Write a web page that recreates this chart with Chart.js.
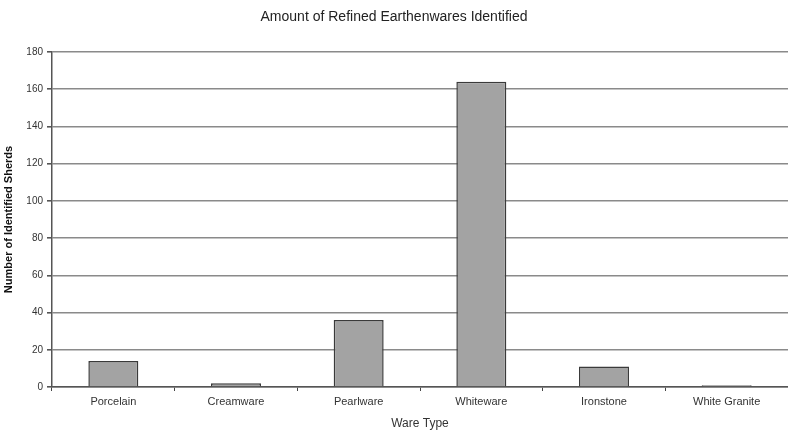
<!DOCTYPE html>
<html>
<head>
<meta charset="utf-8">
<script src="https://cdn.jsdelivr.net/npm/chart.js@4.4.1/dist/chart.umd.min.js"></script>
<style>
  html, body { margin: 0; padding: 0; background: #fff; }
  #wrap { width: 788px; height: 437px; }
</style>
</head>
<body>
<div id="wrap"><canvas id="c" width="788" height="437"></canvas></div>
<script>
// Refined earthenware sherd counts by ware type
const wareTypes = ['Porcelain', 'Creamware', 'Pearlware', 'Whiteware', 'Ironstone', 'White Granite'];
const sherdCounts = [14, 2, 36, 164, 11, 1];
const yTicks = [0, 20, 40, 60, 80, 100, 120, 140, 160, 180];

const FONT = '"Liberation Sans", Arial, sans-serif';

new Chart(document.getElementById('c'), {
  type: 'bar',
  data: {
    labels: wareTypes,
    datasets: [{
      data: sherdCounts,
      backgroundColor: '#a3a3a3',
      borderColor: '#3a3a3a',
      borderWidth: 1.5,
      barPercentage: 0.815,
      categoryPercentage: 0.5
    }]
  },
  options: {
    responsive: false,
    animation: false,
    layout: { padding: { left: 0, right: 0, top: 0, bottom: 0 } },
    plugins: {
      legend: { display: false },
      tooltip: { enabled: false },
      title: {
        display: true,
        text: 'Amount of Refined Earthenwares Identified',
        color: '#222',
        font: { family: FONT, size: 14, weight: 'normal' },
        padding: { top: 9, bottom: 26.2 }
      }
    },
    scales: {
      x: {
        offset: true,
        grid: {
          offset: true,
          drawOnChartArea: false,
          drawTicks: true,
          tickLength: 4,
          color: '#444',
          lineWidth: 1
        },
        border: { display: true, color: '#555', width: 1.5 },
        ticks: {
          color: '#333',
          font: { family: FONT, size: 11 },
          padding: 4.5,
          maxRotation: 0,
          autoSkip: false
        },
        title: {
          display: true,
          text: 'Ware Type',
          color: '#333',
          font: { family: FONT, size: 12 },
          padding: { top: 2, bottom: 5.8 }
        },
        afterFit: s => { s.height = 50; }
      },
      y: {
        min: 0,
        max: 180,
        afterBuildTicks: s => { s.ticks = yTicks.map(v => ({ value: v })); },
        grid: {
          color: '#8a8a8a',
          lineWidth: 1.6,
          drawTicks: true,
          tickLength: 5,
          tickColor: '#555'
        },
        border: { display: true, color: '#555', width: 1.5 },
        ticks: {
          color: '#333',
          font: { family: FONT, size: 10 },
          padding: 4
        },
        title: {
          display: true,
          text: 'Number of Identified Sherds',
          color: '#111',
          font: { family: FONT, size: 11, weight: 'bold' },
          padding: { top: 2.5, bottom: 4 }
        },
        afterFit: s => { s.width = 52; }
      }
    }
  }
});
</script>
</body>
</html>
